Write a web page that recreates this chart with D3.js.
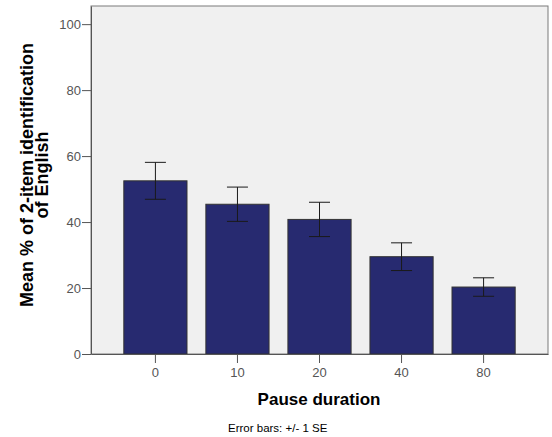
<!DOCTYPE html>
<html>
<head>
<meta charset="utf-8">
<script src="https://cdn.jsdelivr.net/npm/d3@7"></script>
<style>
  body { margin: 0; background: #fff; }
  text { font-family: "Liberation Sans", Arial, sans-serif; }
</style>
</head>
<body>
<div id="chart"></div>
<script>
// Data
var categories = ["0", "10", "20", "40", "80"];
var means = [52.5, 45.4, 40.8, 29.5, 20.3];
var stdErrs = [5.6, 5.2, 5.2, 4.2, 2.8];
var yTicks = [0, 20, 40, 60, 80, 100];

var width = 552, height = 437;
// Plot frame
var p = { left: 91, right: 548, top: 6, bottom: 354 };

var svg = d3.select("#chart").append("svg")
    .attr("width", width)
    .attr("height", height);

var x = d3.scaleBand()
    .domain(categories)
    .range([p.left, p.right])
    .paddingInner(0.23)
    .paddingOuter(0.40);

var y = d3.scaleLinear()
    .domain([0, 105.5])
    .range([p.bottom, p.top]);

// Background of the plot area
svg.append("rect")
    .attr("x", p.left)
    .attr("y", p.top)
    .attr("width", p.right - p.left)
    .attr("height", p.bottom - p.top)
    .style("fill", "#f0f0f0")
    .style("stroke", "#7a7a7a")
    .style("stroke-width", 1);

var rows = categories.map(function(c, i) {
  return { cat: c, mean: means[i], se: stdErrs[i] };
});

// Bars
svg.append("g").selectAll("rect")
    .data(rows)
    .enter().append("rect")
    .attr("x", function(d) { return x(d.cat); })
    .attr("y", function(d) { return y(d.mean); })
    .attr("width", x.bandwidth())
    .attr("height", function(d) { return y(0) - y(d.mean); })
    .style("fill", "#272a70")
    .style("stroke", "#333333")
    .style("stroke-width", 1);

// Error bars (+/- 1 SE)
var cap = 10.5;
var eb = svg.append("g").selectAll("g")
    .data(rows)
    .enter().append("g")
    .attr("transform", function(d) { return "translate(" + (x(d.cat) + x.bandwidth() / 2) + ",0)"; })
    .style("stroke", "#1a1a1a")
    .style("stroke-width", 1);

eb.append("line")
    .attr("x1", 0).attr("x2", 0)
    .attr("y1", function(d) { return y(d.mean + d.se); })
    .attr("y2", function(d) { return y(d.mean - d.se); });
eb.append("line")
    .attr("x1", -cap).attr("x2", cap)
    .attr("y1", function(d) { return y(d.mean + d.se); })
    .attr("y2", function(d) { return y(d.mean + d.se); });
eb.append("line")
    .attr("x1", -cap).attr("x2", cap)
    .attr("y1", function(d) { return y(d.mean - d.se); })
    .attr("y2", function(d) { return y(d.mean - d.se); });

// Axes
var yAxis = svg.append("g")
    .attr("transform", "translate(" + p.left + ",0)")
    .call(d3.axisLeft(y).tickValues(yTicks).tickSizeInner(9).tickSizeOuter(0).tickPadding(1));
var xAxis = svg.append("g")
    .attr("transform", "translate(0," + p.bottom + ")")
    .call(d3.axisBottom(x).tickSizeInner(9).tickSizeOuter(0).tickPadding(5));

[yAxis, xAxis].forEach(function(a) {
  a.select(".domain").style("stroke", "#555");
  a.selectAll(".tick line").style("stroke", "#555");
  a.selectAll(".tick text")
      .style("font-size", "13px")
      .style("fill", "#555")
      .style("font-family", "Liberation Sans, Arial, sans-serif");
});

// Axis titles (two-line y title)
var yTitleLines = ["Mean % of 2-item identification", "of English"];
svg.append("g").selectAll("text")
    .data(yTitleLines)
    .enter().append("text")
    .attr("transform", function(d, i) { return "translate(" + (33 + i * 14.5) + ",175) rotate(-90)"; })
    .attr("text-anchor", "middle")
    .style("font-size", "18px")
    .style("font-weight", "bold")
    .style("fill", "#000")
    .text(function(d) { return d; });

svg.append("text")
    .attr("x", 319)
    .attr("y", 405)
    .attr("text-anchor", "middle")
    .style("font-size", "17px")
    .style("font-weight", "bold")
    .style("fill", "#000")
    .text("Pause duration");

svg.append("text")
    .attr("x", 228)
    .attr("y", 432)
    .style("font-size", "11.5px")
    .style("fill", "#000")
    .text("Error bars: +/- 1 SE");
</script>
</body>
</html>
